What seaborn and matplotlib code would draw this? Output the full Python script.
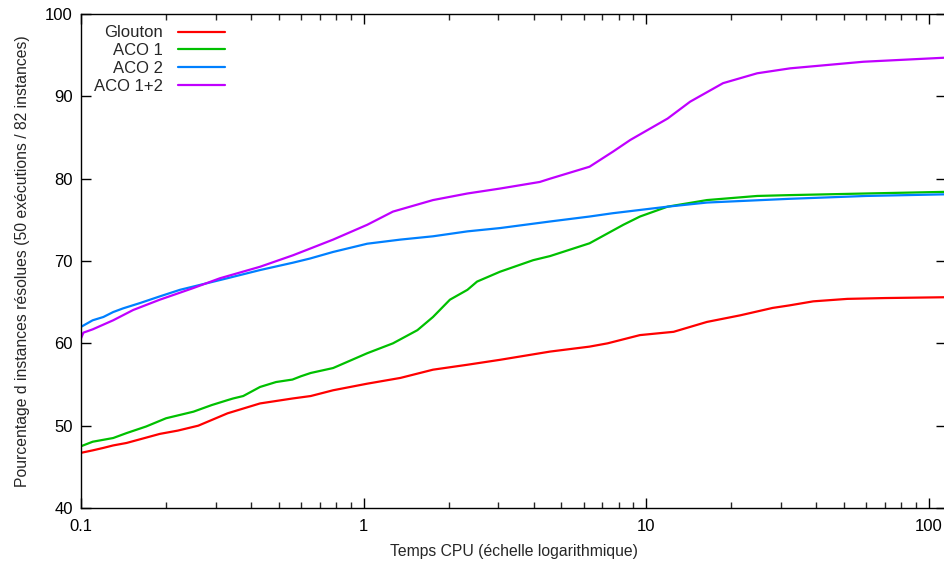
import numpy as np
import pandas as pd
import seaborn as sns
import matplotlib
matplotlib.use("Agg")
import matplotlib.pyplot as plt
from matplotlib.ticker import FixedLocator, FuncFormatter, LogLocator, NullFormatter

# DONNEES
glouton_t = [0.1, 0.11, 0.12, 0.13, 0.145, 0.16, 0.19, 0.22, 0.26, 0.33, 0.43, 0.56,
             0.65, 0.78, 1.03, 1.35, 1.76, 2.33, 3.04, 4.57, 6.3, 7.3, 9.5, 12.5,
             16.4, 21.5, 28, 32, 39, 51.5, 70, 115]
glouton_p = [46.7, 47.0, 47.3, 47.6, 47.9, 48.3, 49.0, 49.4, 50.0, 51.5, 52.7, 53.3,
             53.6, 54.3, 55.1, 55.8, 56.8, 57.4, 58.0, 59.0, 59.6, 60.0, 61.0, 61.4,
             62.6, 63.4, 64.3, 64.6, 65.1, 65.4, 65.5, 65.6]

aco1_t = [0.1, 0.11, 0.13, 0.145, 0.17, 0.2, 0.25, 0.29, 0.33, 0.345, 0.375, 0.43,
          0.49, 0.56, 0.6, 0.65, 0.78, 1.03, 1.27, 1.55, 1.76, 2.02, 2.33, 2.52,
          3.04, 3.98, 4.57, 6.3, 8.3, 9.5, 11.9, 16.4, 24.7, 32, 60, 115]
aco1_p = [47.5, 48.05, 48.5, 49.1, 49.9, 50.9, 51.7, 52.5, 53.1, 53.3, 53.6, 54.7,
          55.3, 55.6, 56.0, 56.4, 57.0, 58.8, 60.0, 61.6, 63.2, 65.3, 66.5, 67.5,
          68.7, 70.1, 70.6, 72.15, 74.4, 75.4, 76.6, 77.4, 77.9, 78.0, 78.2, 78.4]

aco2_t = [0.1, 0.11, 0.12, 0.13, 0.141, 0.162, 0.19, 0.224, 0.264, 0.329, 0.43, 0.563,
          0.646, 0.78, 1.03, 1.35, 1.76, 2.33, 3.04, 4.57, 6.3, 7.6, 11.9, 16.4,
          32, 60, 115]
aco2_p = [62.0, 62.8, 63.2, 63.8, 64.25, 64.9, 65.7, 66.5, 67.1, 67.9, 68.9, 69.8,
          70.3, 71.1, 72.1, 72.6, 73.0, 73.6, 74.0, 74.8, 75.4, 75.8, 76.6, 77.1,
          77.55, 77.9, 78.1]

aco12_t = [0.1, 0.102, 0.11, 0.13, 0.153, 0.19, 0.249, 0.31, 0.43, 0.563, 0.646, 0.78,
           1.03, 1.27, 1.76, 2.33, 3.04, 4.2, 4.57, 6.3, 7.64, 8.78, 11.9, 14.3,
           18.7, 24.7, 32.3, 58.6, 115]
aco12_p = [60.6, 61.3, 61.7, 62.8, 64.05, 65.3, 66.7, 67.9, 69.3, 70.7, 71.5, 72.6,
           74.4, 76.0, 77.4, 78.2, 78.8, 79.6, 80.0, 81.45, 83.3, 84.7, 87.3, 89.35,
           91.6, 92.8, 93.4, 94.2, 94.7]

series = ["Glouton", "ACO 1", "ACO 2", "ACO 1+2"]
couleurs = ["#ff0000", "#00c000", "#0080ff", "#c000ff"]

df = pd.concat([
    pd.DataFrame({"temps": glouton_t, "pct": glouton_p, "algo": "Glouton"}),
    pd.DataFrame({"temps": aco1_t, "pct": aco1_p, "algo": "ACO 1"}),
    pd.DataFrame({"temps": aco2_t, "pct": aco2_p, "algo": "ACO 2"}),
    pd.DataFrame({"temps": aco12_t, "pct": aco12_p, "algo": "ACO 1+2"}),
], ignore_index=True)

# STYLE
sns.set_style("ticks")
plt.rcParams["font.family"] = ["Liberation Sans", "DejaVu Sans"]
plt.rcParams["font.size"] = 12

fig = plt.figure(figsize=(9.44, 5.62), dpi=100)
ax = fig.add_axes([81 / 944, 1 - 508 / 562, 865 / 944, 494 / 562])

sns.lineplot(data=df, x="temps", y="pct", hue="algo", hue_order=series,
             palette=couleurs, linewidth=1.6,
             estimator=None, sort=False, ax=ax)

ax.set_xscale("log")
ax.set_xlim(0.1, 115)
ax.set_ylim(40, 100)

ax.xaxis.set_major_locator(FixedLocator([0.1, 1, 10, 100]))
ax.xaxis.set_major_formatter(FuncFormatter(lambda v, p: "%g" % v))
ax.xaxis.set_minor_locator(LogLocator(base=10, subs=np.arange(2, 10)))
ax.xaxis.set_minor_formatter(NullFormatter())
ax.yaxis.set_major_locator(FixedLocator([40, 50, 60, 70, 80, 90, 100]))

ax.tick_params(axis="both", which="major", direction="in", length=7, width=1,
               top=True, right=True, labelsize=12, colors="black")
ax.tick_params(axis="x", which="minor", direction="in", length=4, width=1, top=True)
ax.tick_params(axis="x", which="major", pad=8)
ax.tick_params(axis="y", which="major", pad=6)
for s in ax.spines.values():
    s.set_linewidth(1)
    s.set_color("black")

ax.set_xlabel("Temps CPU (échelle logarithmique)", fontsize=11.3, labelpad=7)
ax.set_ylabel("Pourcentage d instances résolues (50 exécutions / 82 instances)",
              fontsize=11.3, labelpad=11)

handles, labels = ax.get_legend_handles_labels()
ax.legend(handles, labels, loc="upper right", bbox_to_anchor=(233 / 944, 1 - 17 / 562),
          bbox_transform=fig.transFigure, frameon=False, markerfirst=False,
          borderpad=0, handlelength=2.8, handletextpad=0.9, labelspacing=0.17,
          fontsize=12)

fig.savefig("out.png", dpi=100)
